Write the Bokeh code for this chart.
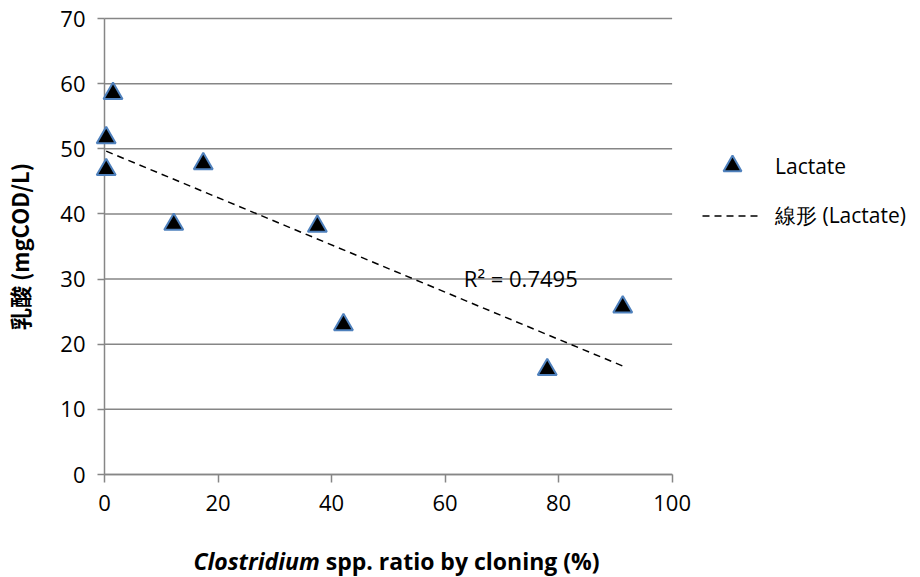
from bokeh.plotting import figure
from bokeh.models import Legend, LegendItem, Range1d, FixedTicker, Label, Div
from bokeh.layouts import column
from bokeh.embed import file_html
from bokeh.resources import INLINE
import numpy as np

# data
clostridium_ratio = [0.3, 0.3, 1.5, 12.2, 17.4, 37.5, 42.1, 78.0, 91.3]
lactate = [46.8, 51.7, 58.5, 38.4, 47.7, 38.1, 23.0, 16.1, 25.7]
x_ticks = [0, 20, 40, 60, 80, 100]
y_ticks = [0, 10, 20, 30, 40, 50, 60, 70]
x_bounds = (0, 100)
y_bounds = (0, 70)
series_label = "Lactate"
trend_label = "線形 (Lactate)"
r2_text = "R² = 0.7495"
y_title = "乳酸 (mgCOD/L)"
x_title_html = "<i>Clostridium</i> spp. ratio by cloning (%)"

# linear trend line (least squares on the data)
slope, intercept = np.polyfit(clostridium_ratio, lactate, 1)
fit_x = [min(clostridium_ratio), max(clostridium_ratio)]
fit_y = [intercept + slope * v for v in fit_x]

GRID = "#868686"
FONT = "Open Sans"

# frame runs to the right edge so that the legend sits inside it; axes stop at 100
p = figure(width=920, height=541, x_range=Range1d(0, 143.76), y_range=Range1d(0, 70),
           output_backend="svg", toolbar_location=None,
           min_border_left=102, min_border_right=0, min_border_top=18, min_border_bottom=67)
p.outline_line_color = None
p.background_fill_color = "white"
p.border_fill_color = "white"
p.xgrid.visible = False
p.ygrid.visible = False

for ax, ticks, tout, bnds in ((p.xaxis[0], x_ticks, 8, x_bounds), (p.yaxis[0], y_ticks, 7, y_bounds)):
    ax.ticker = FixedTicker(ticks=ticks)
    ax.bounds = bnds
    ax.major_tick_out = tout
    ax.major_tick_in = 0
    ax.minor_tick_out = 0
    ax.minor_tick_in = 0
    ax.axis_line_color = GRID
    ax.axis_line_width = 1.5
    ax.major_tick_line_color = GRID
    ax.major_tick_line_width = 1.5
    ax.major_label_text_font = FONT
    ax.major_label_text_font_size = "22px"
    ax.major_label_text_color = "black"
    ax.major_label_standoff = 12

p.yaxis[0].axis_label = y_title
p.yaxis[0].axis_label_text_font = "Noto Sans CJK JP"
p.yaxis[0].axis_label_text_font_style = "bold"
p.yaxis[0].axis_label_text_font_size = "22px"
p.yaxis[0].axis_label_text_color = "black"
p.yaxis[0].axis_label_standoff = 22

# horizontal gridlines between the axis bounds
p.segment(x0=[x_bounds[0]] * len(y_ticks), y0=y_ticks, x1=[x_bounds[1]] * len(y_ticks), y1=y_ticks,
          line_color=GRID, line_width=1.5, level="guide")

ln = p.line(fit_x, fit_y, line_color="black", line_width=1.5, line_dash="7 5", level="guide")
sc = p.scatter(clostridium_ratio, lactate, marker="triangle", size=19,
               fill_color="black", line_color="#4f81bd", line_width=2, level="annotation")

legend = Legend(items=[LegendItem(label=series_label, renderers=[sc]),
                       LegendItem(label=trend_label, renderers=[ln])],
                location=(598, 236), glyph_width=60, glyph_height=45, label_height=45,
                spacing=5, padding=0, margin=0, border_line_color=None,
                background_fill_alpha=0, label_standoff=13,
                label_text_font=FONT, label_text_font_size="21px", label_text_color="black")
p.add_layout(legend)

p.add_layout(Label(x=63.3, y=30.2, text=r2_text, text_font=FONT, text_font_size="22px",
                   text_color="black", text_align="left", text_baseline="alphabetic"))

x_title = Div(text=x_title_html, width=783, height=36,
              styles={"font-family": "Open Sans", "font-size": "23px", "font-weight": "bold",
                      "line-height": "30px", "text-align": "center", "color": "black"})

layout = column(p, x_title, spacing=0)
open("out.html", "w").write(file_html(layout, INLINE))
